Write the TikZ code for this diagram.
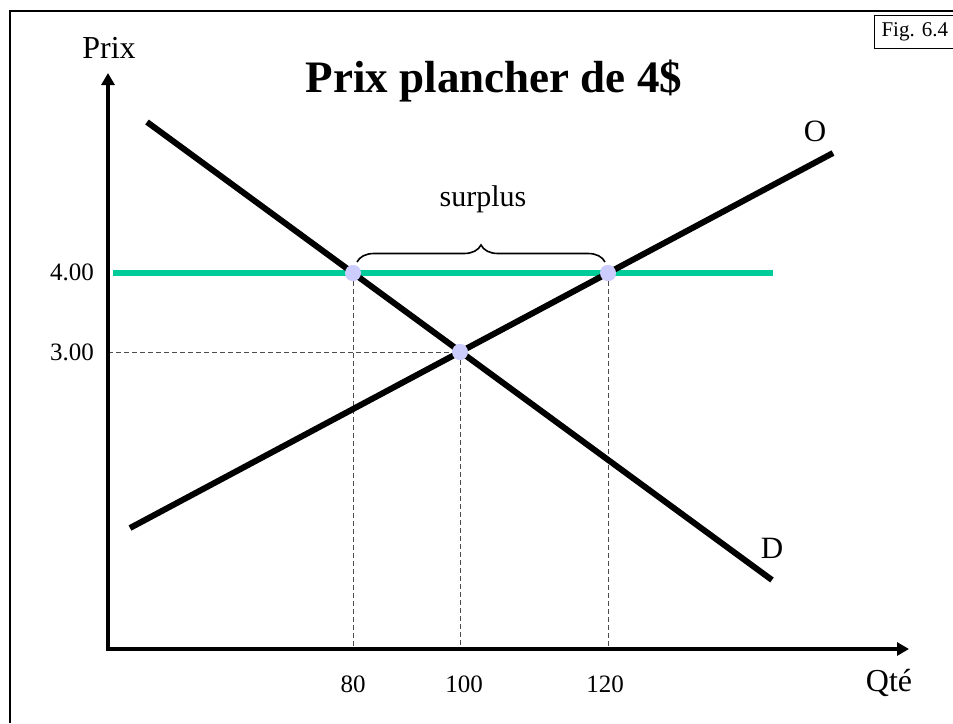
\documentclass[tikz,border=0pt]{standalone}
\usepackage{fontspec}
\setmainfont{Liberation Serif}
\usetikzlibrary{arrows.meta,decorations.pathreplacing}
\definecolor{floorgreen}{RGB}{0,204,153}
\definecolor{dotblue}{RGB}{204,204,255}
\tikzset{
  axis/.style={line width=4.5pt,-{Triangle[length=12pt,width=13pt]}},
  curve/.style={line width=6pt},
  guide/.style={line width=0.9pt,black!70,dash pattern=on 5pt off 3pt},
  pt/.style={circle,fill=dotblue,inner sep=0pt,minimum size=16pt},
  lbl/.style={inner sep=0pt,font=\fontsize{25}{29}\selectfont},
  big/.style={inner sep=0pt,font=\fontsize{31}{35}\selectfont},
}
\begin{document}
\begin{tikzpicture}[x=1pt,y=-1pt]
\useasboundingbox (0,0) rectangle (953,723);
% frame
\draw[line width=2.2pt] (10,723) -- (10,11) -- (953,11);
\node[draw,line width=1pt,anchor=north west,minimum width=90pt,minimum height=33pt,
      inner sep=0pt,font=\fontsize{21}{25}\selectfont,text width=84pt,align=left] (fig) at (874,15)
      {\hspace*{4pt}Fig.\ 6.4};
% coordinates
\coordinate (o) at (108,649);
\coordinate (ytip) at (108,73);
\coordinate (xtip) at (909,649);
\coordinate (d1) at (147,122);
\coordinate (d2) at (772,580);
\coordinate (s1) at (130,528);
\coordinate (s2) at (833,153);
\coordinate (g1) at (113,273);
\coordinate (g2) at (773,273);
\coordinate (b80) at (353,649);
\coordinate (b100) at (460,649);
\coordinate (b120) at (608,649);
\coordinate (y3) at (108,352);
% guides
\node[pt] (p80) at (353,273) {};
\node[pt] (p100) at (460,352) {};
\node[pt] (p120) at (608,273) {};
\draw[guide] (p80.center) -- (b80);
\draw[guide] (p100.center) -- (b100);
\draw[guide] (p120.center) -- (b120);
\draw[guide] (y3) -- (p100.center);
% floor price
\draw[floorgreen,line width=6pt] (g1) -- (g2);
% curves
\draw[curve] (d1) -- (d2);
\draw[curve] (s1) -- (s2);
% dots on top
\node[pt] at (p80) {};
\node[pt] at (p100) {};
\node[pt] at (p120) {};
% axes
\draw[axis] (o) -- (ytip);
\draw[axis] ([xshift=-2.25pt]o) -- (xtip);
% brace
\coordinate (bl) at (357,262);
\coordinate (br) at (605,262);
\draw[line width=1.6pt,decorate,decoration={brace,amplitude=17pt}] (bl) -- (br);
% labels
\node[inner sep=0pt,font=\fontsize{30}{34}\selectfont] (surplus) at (483,199) {surplus};
\node[big,font=\fontsize{32}{36}\selectfont] (prix) at (109,48) {Prix};
\node[inner sep=0pt,font=\bfseries\fontsize{45}{50}\selectfont] (title) at (494,81) {Prix plancher de 4\$};
\node[big] (O) at (815,131) {O};
\node[big] (D) at (772,548) {D};
\node[big,font=\fontsize{32}{36}\selectfont] (qte) at (889,683) {Qté};
\node[lbl,anchor=east] (l4) at (94,272) {4.00};
\node[lbl,anchor=east] (l3) at (94,352) {3.00};
\node[lbl] (t80) at (353,684) {80};
\node[lbl] (t100) at (464,684) {100};
\node[lbl] (t120) at (605,684) {120};
\end{tikzpicture}
\end{document}
